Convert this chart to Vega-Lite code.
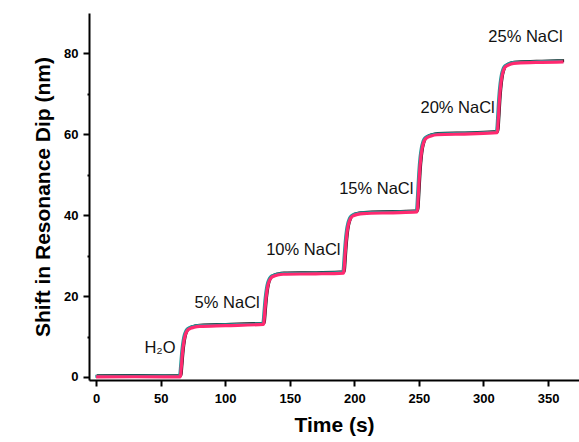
{
  "$schema": "https://vega.github.io/schema/vega-lite/v6.json",
  "autosize": "none",
  "width": 490,
  "height": 367,
  "padding": {"left": 89, "top": 13, "right": 0, "bottom": 62},
  "background": "white",
  "config": {"view": {"stroke": null}, "font": "Liberation Sans"},
  "datasets": {
    "curve": [
      {"t": 0, "v": 0}, {"t": 30, "v": 0.05}, {"t": 65, "v": 0},
      {"t": 65.5, "v": 0.6}, {"t": 66, "v": 2.5}, {"t": 67, "v": 6.3}, {"t": 68, "v": 8.8}, {"t": 69, "v": 10.3}, {"t": 70, "v": 11.1}, {"t": 71, "v": 11.6}, {"t": 73, "v": 12.0}, {"t": 76, "v": 12.3}, {"t": 80, "v": 12.5}, {"t": 100, "v": 12.7}, {"t": 129.5, "v": 13.0},
      {"t": 130, "v": 13.6}, {"t": 130.5, "v": 15.5}, {"t": 131.5, "v": 19.2}, {"t": 132.5, "v": 21.7}, {"t": 133.5, "v": 23.2}, {"t": 134.5, "v": 24.0}, {"t": 135.5, "v": 24.5}, {"t": 137.5, "v": 24.9}, {"t": 140.5, "v": 25.2}, {"t": 145, "v": 25.4}, {"t": 170, "v": 25.5}, {"t": 191.5, "v": 25.7},
      {"t": 192, "v": 26.4}, {"t": 192.5, "v": 28.7}, {"t": 193.5, "v": 33.1}, {"t": 194.5, "v": 36.1}, {"t": 195.5, "v": 37.8}, {"t": 196.5, "v": 38.8}, {"t": 197.5, "v": 39.4}, {"t": 199.5, "v": 39.9}, {"t": 202.5, "v": 40.2}, {"t": 207, "v": 40.4}, {"t": 230, "v": 40.6}, {"t": 248.5, "v": 40.8},
      {"t": 249, "v": 41.8}, {"t": 249.5, "v": 44.6}, {"t": 250.5, "v": 50.4}, {"t": 251.5, "v": 54.2}, {"t": 252.5, "v": 56.5}, {"t": 253.5, "v": 57.8}, {"t": 254.5, "v": 58.6}, {"t": 256.5, "v": 59.2}, {"t": 259.5, "v": 59.6}, {"t": 264, "v": 59.9}, {"t": 290, "v": 60.1}, {"t": 310.5, "v": 60.4},
      {"t": 311, "v": 61.3}, {"t": 311.5, "v": 63.8}, {"t": 312.5, "v": 69.1}, {"t": 313.5, "v": 72.5}, {"t": 314.5, "v": 74.6}, {"t": 315.5, "v": 75.8}, {"t": 316.5, "v": 76.5}, {"t": 318.5, "v": 77.0}, {"t": 321.5, "v": 77.4}, {"t": 326, "v": 77.6}, {"t": 345, "v": 77.8}, {"t": 362, "v": 77.9}
    ],
    "labels": [
      {"t": 49.5, "v": 7.2, "txt": "H₂O"},
      {"t": 101.5, "v": 18.2, "txt": "5% NaCl"},
      {"t": 160.5, "v": 31.4, "txt": "10% NaCl"},
      {"t": 217, "v": 46.4, "txt": "15% NaCl"},
      {"t": 280, "v": 66.4, "txt": "20% NaCl"},
      {"t": 332.5, "v": 84, "txt": "25% NaCl"}
    ]
  },
  "layer": [
    {
      "data": {"name": "curve"},
      "mark": {"type": "line", "color": "#111111", "strokeWidth": 3, "xOffset": 0.6, "yOffset": -1.2, "interpolate": "monotone", "clip": true},
      "encoding": {
        "x": {"field": "t", "type": "quantitative", "scale": {"domain": [-5.5, 374], "nice": false, "zero": false},
          "axis": {
            "title": "Time (s)", "titleFontSize": 21, "titleFontWeight": "bold", "titleColor": "black", "titlePadding": 9,
            "values": [0, 25, 50, 75, 100, 125, 150, 175, 200, 225, 250, 275, 300, 325, 350],
            "labelExpr": "datum.value % 50 === 0 ? datum.label : ''",
            "labelFontSize": 13, "labelFontWeight": "bold", "labelColor": "black", "labelPadding": 6,
            "domainColor": "black", "domainWidth": 2, "tickColor": "black", "tickWidth": 2,
            "tickSize": {"condition": {"test": "datum.value % 50 !== 0", "value": 4}, "value": 6},
            "grid": false, "labelFlush": false, "labelOverlap": false
          }},
        "y": {"field": "v", "type": "quantitative", "scale": {"domain": [-0.75, 90], "nice": false, "zero": false},
          "axis": {
            "title": "Shift in Resonance Dip (nm)", "titleFontSize": 21, "titleFontWeight": "bold", "titleColor": "black", "titlePadding": 10,
            "values": [0, 10, 20, 30, 40, 50, 60, 70, 80],
            "labelExpr": "datum.value % 20 === 0 ? datum.label : ''",
            "labelFontSize": 13, "labelFontWeight": "bold", "labelColor": "black", "labelPadding": 5,
            "domainColor": "black", "domainWidth": 2, "tickColor": "black", "tickWidth": 2,
            "tickSize": {"condition": {"test": "datum.value % 20 !== 0", "value": 2}, "value": 6},
            "grid": false, "labelFlush": false, "labelOverlap": false
          }}
      }
    },
    {
      "data": {"name": "curve"},
      "mark": {"type": "line", "color": "#1f9a9a", "strokeWidth": 3, "xOffset": -0.8, "yOffset": -0.8, "interpolate": "monotone", "clip": true},
      "encoding": {"x": {"field": "t", "type": "quantitative"}, "y": {"field": "v", "type": "quantitative"}}
    },
    {
      "data": {"name": "curve"},
      "mark": {"type": "line", "color": "#ff2a70", "strokeWidth": 3.2, "interpolate": "monotone", "clip": true},
      "encoding": {"x": {"field": "t", "type": "quantitative"}, "y": {"field": "v", "type": "quantitative"}}
    },
    {
      "data": {"name": "labels"},
      "mark": {"type": "text", "fontSize": 16.5, "color": "#111111", "align": "center", "baseline": "middle"},
      "encoding": {"x": {"field": "t", "type": "quantitative"}, "y": {"field": "v", "type": "quantitative"}, "text": {"field": "txt"}}
    }
  ]
}
